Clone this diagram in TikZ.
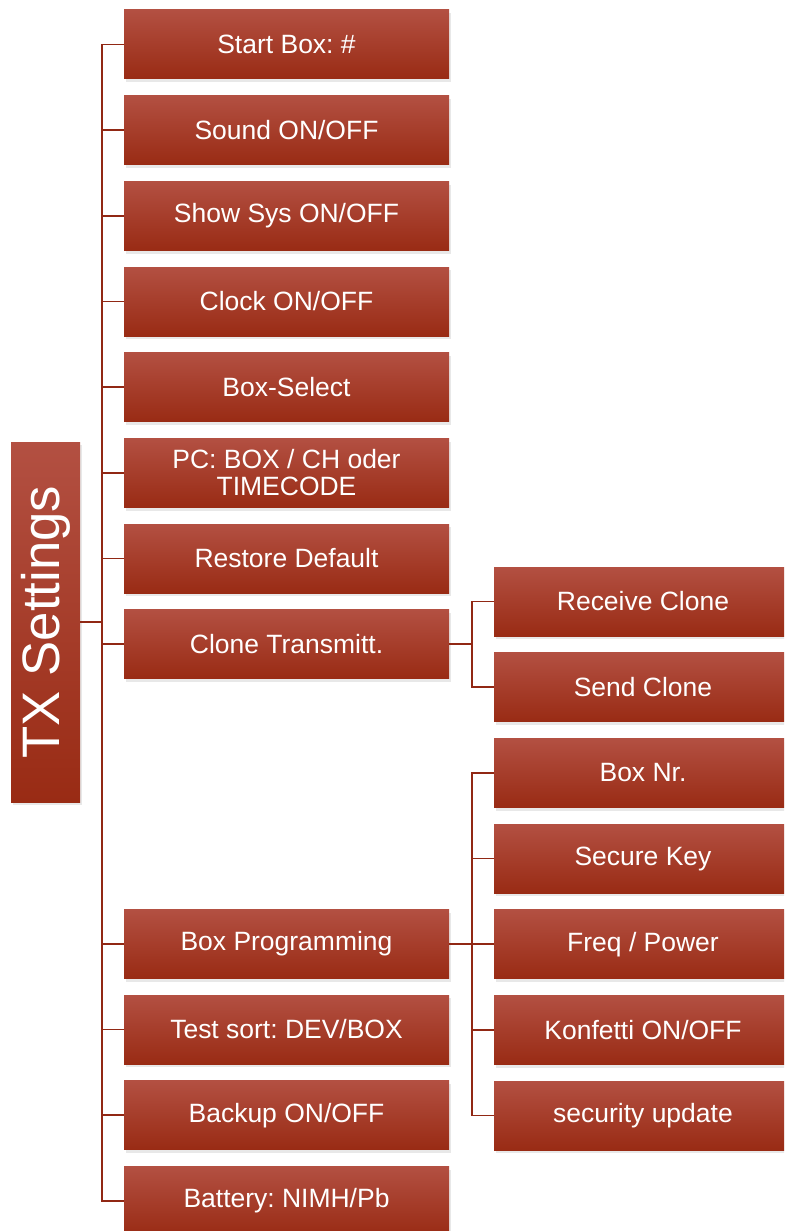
\documentclass[tikz,border=0pt]{standalone}
\usepackage{fontspec}
\setmainfont{Liberation Sans}
\frenchspacing
\usetikzlibrary{positioning,shadows}
\definecolor{txtop}{RGB}{179,80,66}
\definecolor{txbottom}{RGB}{153,43,20}
\definecolor{txline}{RGB}{145,40,20}

\begin{document}
\begin{tikzpicture}[node distance=0.5cm,
    menubox/.style={rectangle, top color=txtop, bottom color=txbottom, text=white, align=center, minimum height=2.07cm, inner sep=2pt, outer sep=0pt, font=\fontsize{22.6}{23}\selectfont, drop shadow={shadow xshift=0.06cm, shadow yshift=-0.1cm, opacity=0.18}},
    mainbox/.style={menubox, minimum width=9.75cm},
    subbox/.style={menubox, minimum width=8.94cm},
    link/.style={draw=txline, line width=1.2pt}]
    \useasboundingbox (0,0) rectangle (23.52,-36.93);
    \clip (0,0) rectangle (23.52,-36.93);

    % root
    \node [menubox, minimum width=2.07cm, minimum height=10.8cm, font=\fontsize{45}{50}\selectfont] (root) at (1.365,-18.66) {\rotatebox{90}{TX Settings}};

    % first level
    \node [mainbox] (start) at (8.595,-1.335) {Start Box: \#};
    \node [mainbox, below=of start] (sound) {Sound ON/OFF};
    \node [mainbox, below=of sound] (showsys) {Show Sys ON/OFF};
    \node [mainbox, below=of showsys] (clock) {Clock ON/OFF};
    \node [mainbox, below=of clock] (boxselect) {Box-Select};
    \node [mainbox, below=of boxselect] (pc) {PC: BOX / CH oder\\TIMECODE};
    \node [mainbox, below=of pc] (restore) {Restore Default};
    \node [mainbox, below=of restore] (clone) {Clone Transmitt.};
    \node [mainbox, below=6.92cm of clone] (boxprog) {Box Programming};
    \node [mainbox, below=of boxprog] (testsort) {Test sort: DEV/BOX};
    \node [mainbox, below=of testsort] (backup) {Backup ON/OFF};
    \node [mainbox, below=of backup] (battery) {Battery: NIMH/Pb};

    % second level
    \node [subbox] (receive) at (19.29,-18.045) {Receive Clone};
    \node [subbox, below=of receive] (send) {Send Clone};
    \node [subbox, below=of send] (boxnr) {Box Nr.};
    \node [subbox, below=of boxnr] (securekey) {Secure Key};
    \node [subbox, below=of securekey] (freq) {Freq / Power};
    \node [subbox, below=of freq] (konfetti) {Konfetti ON/OFF};
    \node [subbox, below=of konfetti] (secupdate) {security update};

    % connectors
    \draw [link] (root.east) -- ++(0.66,0) |- (start.west);
    \draw [link] (root.east) -- ++(0.66,0) |- (sound.west);
    \draw [link] (root.east) -- ++(0.66,0) |- (showsys.west);
    \draw [link] (root.east) -- ++(0.66,0) |- (clock.west);
    \draw [link] (root.east) -- ++(0.66,0) |- (boxselect.west);
    \draw [link] (root.east) -- ++(0.66,0) |- (pc.west);
    \draw [link] (root.east) -- ++(0.66,0) |- (restore.west);
    \draw [link] (root.east) -- ++(0.66,0) |- (clone.west);
    \draw [link] (root.east) -- ++(0.66,0) |- (boxprog.west);
    \draw [link] (root.east) -- ++(0.66,0) |- (testsort.west);
    \draw [link] (root.east) -- ++(0.66,0) |- (backup.west);
    \draw [link] (root.east) -- ++(0.66,0) |- (battery.west);

    \draw [link] (clone.east) -- ++(0.69,0) |- (receive.west);
    \draw [link] (clone.east) -- ++(0.69,0) |- (send.west);

    \draw [link] (boxprog.east) -- ++(0.69,0) |- (boxnr.west);
    \draw [link] (boxprog.east) -- ++(0.69,0) |- (securekey.west);
    \draw [link] (boxprog.east) -- ++(0.69,0) |- (freq.west);
    \draw [link] (boxprog.east) -- ++(0.69,0) |- (konfetti.west);
    \draw [link] (boxprog.east) -- ++(0.69,0) |- (secupdate.west);
\end{tikzpicture}
\end{document}
